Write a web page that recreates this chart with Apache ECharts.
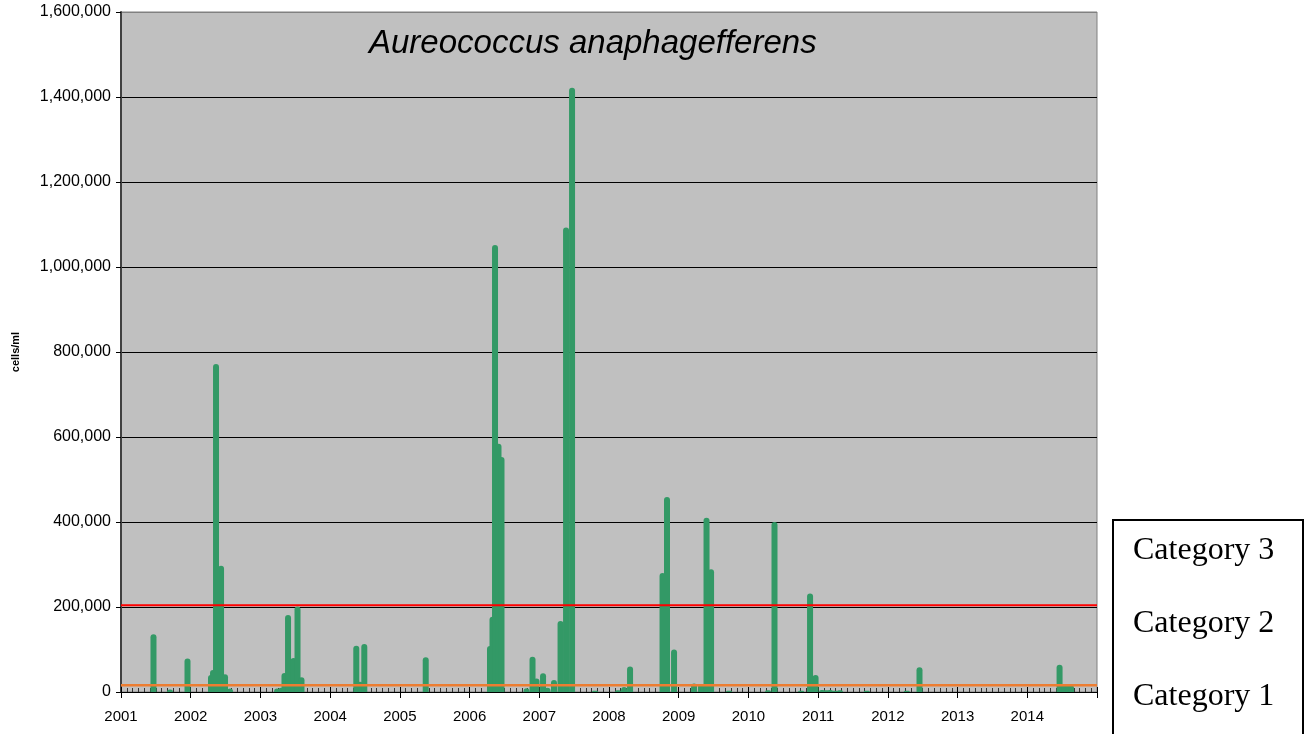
<!DOCTYPE html>
<html>
<head>
<meta charset="utf-8">
<script src="https://cdn.jsdelivr.net/npm/echarts@6/dist/echarts.min.js"></script>
<style>
html,body{margin:0;padding:0;background:#fff;}
#chart{width:1311px;height:734px;}
</style>
</head>
<body>
<div id="chart"></div>
<script>
/* 采样日期（年份小数）与细胞密度 */
var sampleYears = [
	2001.466, 2001.703, 2001.954,
	2002.291, 2002.320, 2002.363, 2002.435, 2002.492, 2002.564,
	2003.238, 2003.295, 2003.345, 2003.396, 2003.475, 2003.532, 2003.589,
	2004.375, 2004.428, 2004.490,
	2005.371,
	2006.293, 2006.329, 2006.365, 2006.415, 2006.458,
	2006.817, 2006.903, 2006.960,
	2007.054, 2007.118, 2007.211, 2007.305, 2007.384, 2007.470, 2007.800,
	2008.130, 2008.216, 2008.302, 2008.768, 2008.832, 2008.933,
	2009.220, 2009.320, 2009.399, 2009.464, 2009.722,
	2010.281, 2010.374, 2010.755, 2010.884, 2010.963,
	2011.056, 2011.113, 2011.171, 2011.242, 2011.314, 2011.697,
	2012.271, 2012.454,
	2014.463, 2014.527, 2014.585, 2014.628
];
var cellCounts = [
	136000, 6000, 79000,
	40000, 52000, 772000, 297000, 42000, 8000,
	8000, 10000, 45000, 181000, 80000, 201000, 35000,
	109000, 24000, 113000,
	82000,
	108000, 177000, 1052000, 584000, 553000,
	9000, 83000, 32000,
	44000, 10000, 28000, 167000, 1093000, 1422000, 3000,
	4000, 12000, 60000, 280000, 459000, 100000,
	20000, 19000, 410000, 289000, 3000,
	4000, 400000, 3000, 232000, 40000,
	5000, 4000, 5000, 3000, 4000, 3000,
	3000, 58000,
	64000, 16000, 16000, 16000
];
var yTicks = [0, 200000, 400000, 600000, 800000, 1000000, 1200000, 1400000, 1600000];
var category3Limit = 204000;
var category1Limit = 16000;
var legendLabels = ['Category 3', 'Category 2', 'Category 1'];

function fmtNum(v){
	return String(v).replace(/\B(?=(\d{3})+(?!\d))/g, ',');
}

var barData = [];
for (var i = 0; i < sampleYears.length; i++) {
	barData.push([sampleYears[i], cellCounts[i]]);
}

var mychart = echarts.init(document.getElementById('chart'));
var option = {
	animation: false,
	grid: {
		left: 121,
		right: 214,
		top: 12,
		bottom: 42,
		show: true,
		backgroundColor: '#c0c0c0',
		borderColor: '#808080',
		borderWidth: 1
	},
	xAxis: [{
		type: 'value',
		min: 2001,
		max: 2015,
		interval: 1,
		axisLine: { lineStyle: { color: '#000', width: 1 } },
		axisTick: { show: true, length: 6, lineStyle: { color: '#000' } },
		axisLabel: {
			margin: 17,
			color: '#000',
			fontFamily: 'Arial, Liberation Sans',
			fontSize: 15,
			formatter: function(v){ return v >= 2015 ? '' : String(v); }
		},
		splitLine: { show: false }
	}, {
		// 月刻度（内侧）
		type: 'value',
		min: 2001,
		max: 2015,
		interval: 1,
		position: 'bottom',
		axisLine: { show: false },
		axisTick: { show: true, inside: true, length: 5, lineStyle: { color: '#000' } },
		minorTick: { show: true, splitNumber: 12, length: 4, lineStyle: { color: '#333' } },
		axisLabel: { show: false },
		splitLine: { show: false }
	}],
	yAxis: {
		type: 'value',
		min: 0,
		max: 1600000,
		interval: 200000,
		name: 'cells/ml',
		nameLocation: 'middle',
		nameGap: 100,
		nameTextStyle: {
			color: '#000',
			fontFamily: 'Arial, Liberation Sans',
			fontWeight: 'bold',
			fontSize: 11
		},
		axisLine: { show: true, lineStyle: { color: '#404040', width: 2 } },
		axisTick: { show: true, length: 5, lineStyle: { color: '#000' } },
		axisLabel: {
			margin: 10,
			color: '#000',
			fontFamily: 'Arial, Liberation Sans',
			fontSize: 16,
			formatter: function(v){ return fmtNum(v); }
		},
		splitLine: {
			show: true,
			lineStyle: {
				color: yTicks.map(function(t){ return t === 1600000 ? '#808080' : '#000'; }),
				width: 1
			}
		}
	},
	series: [{
		name: 'Aureococcus',
		type: 'bar',
		xAxisIndex: 0,
		barWidth: 6,
		data: barData,
		itemStyle: {
			color: '#339966',
			borderRadius: [3, 3, 0, 0]
		},
		z: 2
	}, {
		name: 'Category 3',
		type: 'line',
		xAxisIndex: 0,
		data: [[2001, category3Limit], [2015, category3Limit]],
		symbol: 'none',
		lineStyle: { color: '#ff0000', width: 2 },
		z: 5
	}, {
		name: 'Category 1',
		type: 'line',
		xAxisIndex: 0,
		data: [[2001, category1Limit], [2015, category1Limit]],
		symbol: 'none',
		lineStyle: { color: '#ed7d31', width: 2.5 },
		z: 5
	}],
	graphic: [{
		type: 'text',
		left: 369,
		top: 27,
		z: 10,
		style: {
			text: 'Aureococcus anaphagefferens',
			fill: '#000',
			font: 'italic 33px Arial, "Liberation Sans"'
		}
	}, {
		type: 'rect',
		shape: { x: 1113, y: 520, width: 190, height: 240 },
		style: { fill: '#fff', stroke: '#000', lineWidth: 2 }
	}, {
		type: 'text',
		x: 1133,
		y: 551,
		style: { text: legendLabels[0], fill: '#000', font: '32px "Times New Roman", "Liberation Serif"', verticalAlign: 'middle' }
	}, {
		type: 'text',
		x: 1133,
		y: 624,
		style: { text: legendLabels[1], fill: '#000', font: '32px "Times New Roman", "Liberation Serif"', verticalAlign: 'middle' }
	}, {
		type: 'text',
		x: 1133,
		y: 697,
		style: { text: legendLabels[2], fill: '#000', font: '32px "Times New Roman", "Liberation Serif"', verticalAlign: 'middle' }
	}]
};
mychart.setOption(option);
</script>
</body>
</html>
